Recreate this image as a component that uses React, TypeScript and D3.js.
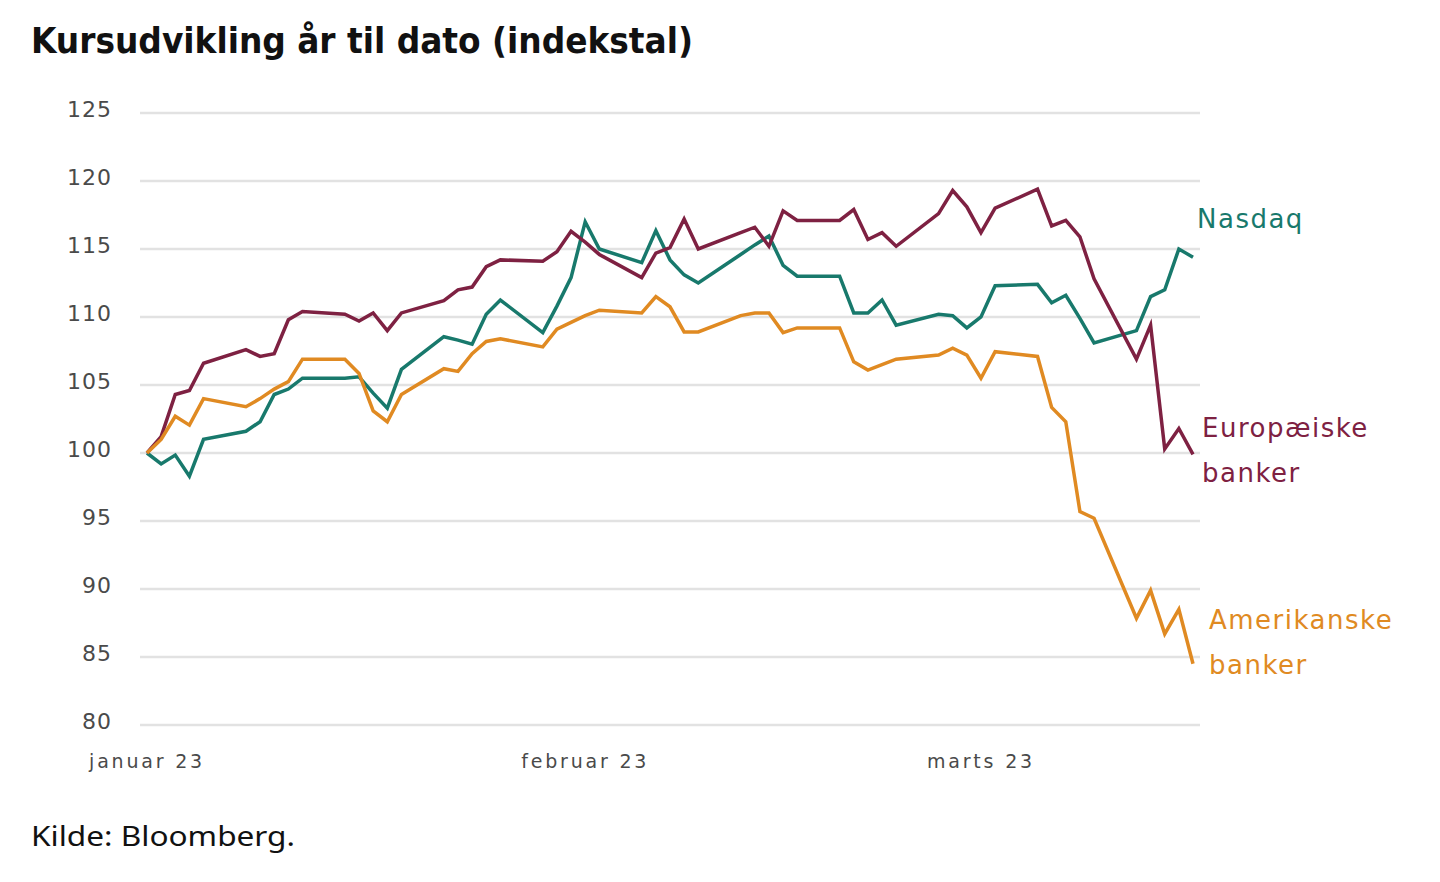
import React from "react";
import * as d3 from "d3";

const dates: string[] = [
  "2023-01-02","2023-01-03","2023-01-04","2023-01-05","2023-01-06",
  "2023-01-09","2023-01-10","2023-01-11","2023-01-12","2023-01-13",
  "2023-01-16","2023-01-17","2023-01-18","2023-01-19","2023-01-20",
  "2023-01-23","2023-01-24","2023-01-25","2023-01-26","2023-01-27",
  "2023-01-30","2023-01-31","2023-02-01","2023-02-02","2023-02-03",
  "2023-02-06","2023-02-07","2023-02-08","2023-02-09","2023-02-10",
  "2023-02-13","2023-02-14","2023-02-15","2023-02-16","2023-02-17",
  "2023-02-20","2023-02-21","2023-02-22","2023-02-23","2023-02-24",
  "2023-02-27","2023-02-28","2023-03-01","2023-03-02","2023-03-03",
  "2023-03-06","2023-03-07","2023-03-08","2023-03-09","2023-03-10",
  "2023-03-13","2023-03-14","2023-03-15","2023-03-16","2023-03-17",
];

const europeanBanks: number[] = [
  100, 101.2, 104.3, 104.6, 106.6,
  107.6, 107.1, 107.3, 109.8, 110.4,
  110.2, 109.7, 110.3, 109.0, 110.3,
  111.2, 112.0, 112.2, 113.7, 114.2,
  114.1, 114.8, 116.3, 115.5, 114.6,
  112.9, 114.7, 115.1, 117.2, 115.0,
  116.2, 116.6, 115.2, 117.8, 117.1,
  117.1, 117.9, 115.7, 116.2, 115.2,
  117.6, 119.3, 118.1, 116.2, 118.0,
  119.4, 116.7, 117.1, 115.9, 112.8,
  106.9, 109.4, 100.3, 101.8, 99.9,
];

const nasdaq: number[] = [
  100, 99.2, 99.85, 98.3, 101.0,
  101.6, 102.3, 104.3, 104.7, 105.5,
  105.5, 105.6, 104.4, 103.3, 106.15,
  108.55, 108.3, 108.0, 110.2, 111.25,
  108.85, 110.8, 112.9, 117.0, 115.0,
  114.0, 116.35, 114.2, 113.1, 112.5,
  114.6, 115.3, 115.95, 113.8, 113.0,
  113.0, 110.3, 110.3, 111.25, 109.4,
  110.2, 110.1, 109.2, 110.0, 112.3,
  112.4, 111.05, 111.6, 109.9, 108.1,
  109.0, 111.5, 112.0, 115.0, 114.4,
];

const americanBanks: number[] = [
  100, 101.0, 102.7, 102.05, 104.0,
  103.4, 104.0, 104.7, 105.25, 106.9,
  106.9, 105.85, 103.1, 102.3, 104.3,
  106.2, 106.0, 107.3, 108.2, 108.4,
  107.8, 109.1, 109.6, 110.1, 110.5,
  110.3, 111.5, 110.75, 108.9, 108.9,
  110.1, 110.3, 110.3, 108.85, 109.2,
  109.2, 106.7, 106.1, 106.5, 106.9,
  107.2, 107.7, 107.2, 105.5, 107.45,
  107.1, 103.35, 102.3, 95.7, 95.2,
  87.85, 89.9, 86.7, 88.5, 84.5,
];

const yTicks: number[] = [80, 85, 90, 95, 100, 105, 110, 115, 120, 125];

// month labels (source chart places them one day after the month start of the data timeline)
const xTickDates: string[] = ["2023-01-02", "2023-02-02", "2023-03-02"];
const xTickLabels: string[] = ["januar 23", "februar 23", "marts 23"];

const seriesNames: string[][] = [["Nasdaq"], ["Europæiske", "banker"], ["Amerikanske", "banker"]];
const seriesColors: string[] = ["#18796c", "#7e2142", "#e08a22"];

const parse = d3.utcParse("%Y-%m-%d");

export default function App() {
  const W = 1440;
  const H = 882;
  const x = d3
    .scaleUtc()
    .domain([parse(dates[0])!, parse(dates[dates.length - 1])!])
    .range([147, 1193]);
  const y = d3.scaleLinear().domain([80, 125]).range([725, 113]);

  const parsed = dates.map((d) => parse(d)!);
  const seriesValues = [nasdaq, europeanBanks, americanBanks];

  const line = d3
    .line<number>()
    .x((_, i) => x(parsed[i]))
    .y((v) => y(v));

  const labelFont = "'DejaVu Sans', Verdana, sans-serif";

  const labelPos = [
    { dx: 4, y: 228 },
    { dx: 9, y: 437 },
    { dx: 16, y: 629 },
  ];

  return (
    <svg
      width={W}
      height={H}
      style={{ position: "absolute", left: 0, top: 0, background: "#fff" }}
    >
      <rect x={0} y={0} width={W} height={H} fill="#fff" />
      <text
        x={31}
        y={53}
        fontFamily="'DejaVu Sans Condensed', 'Liberation Sans Narrow', 'DejaVu Sans', sans-serif"
        fontWeight="bold"
        fontSize={36}
        fill="#111"
        textLength={662}
        lengthAdjust="spacingAndGlyphs"
      >
        Kursudvikling år til dato (indekstal)
      </text>

      {yTicks.map((t) => (
        <g key={t}>
          <line x1={140} x2={1200} y1={y(t)} y2={y(t)} stroke="#e2e2e2" strokeWidth={2.5} />
          <text
            x={112}
            y={y(t) + 4}
            textAnchor="end"
            fontFamily={labelFont}
            fontSize={22}
            letterSpacing={1}
            fill="#4a4a4a"
          >
            {t}
          </text>
        </g>
      ))}

      {xTickDates.map((d, i) => (
        <text
          key={d}
          x={x(parse(d)!)}
          y={768}
          textAnchor="middle"
          fontFamily={labelFont}
          fontSize={19}
          letterSpacing={2.8}
          fill="#4a4a4a"
        >
          {xTickLabels[i]}
        </text>
      ))}

      {seriesValues.map((vals, i) => (
        <path
          key={i}
          d={line(vals) || ""}
          fill="none"
          stroke={seriesColors[i]}
          strokeWidth={3.5}
          strokeLinejoin="miter"
        />
      ))}

      {seriesNames.map((lines, i) => (
        <text
          key={i}
          fontFamily={labelFont}
          fontSize={26}
          letterSpacing={1.5}
          fill={seriesColors[i]}
        >
          {lines.map((l, j) => (
            <tspan key={j} x={x(parsed[parsed.length - 1]) + labelPos[i].dx} y={labelPos[i].y + j * 45}>
              {l}
            </tspan>
          ))}
        </text>
      ))}

      <text
        x={31}
        y={846}
        fontFamily="'Noto Sans', 'Open Sans', sans-serif"
        fontSize={27}
        fill="#111"
        textLength={264}
        lengthAdjust="spacingAndGlyphs"
      >
        Kilde: Bloomberg.
      </text>
    </svg>
  );
}
